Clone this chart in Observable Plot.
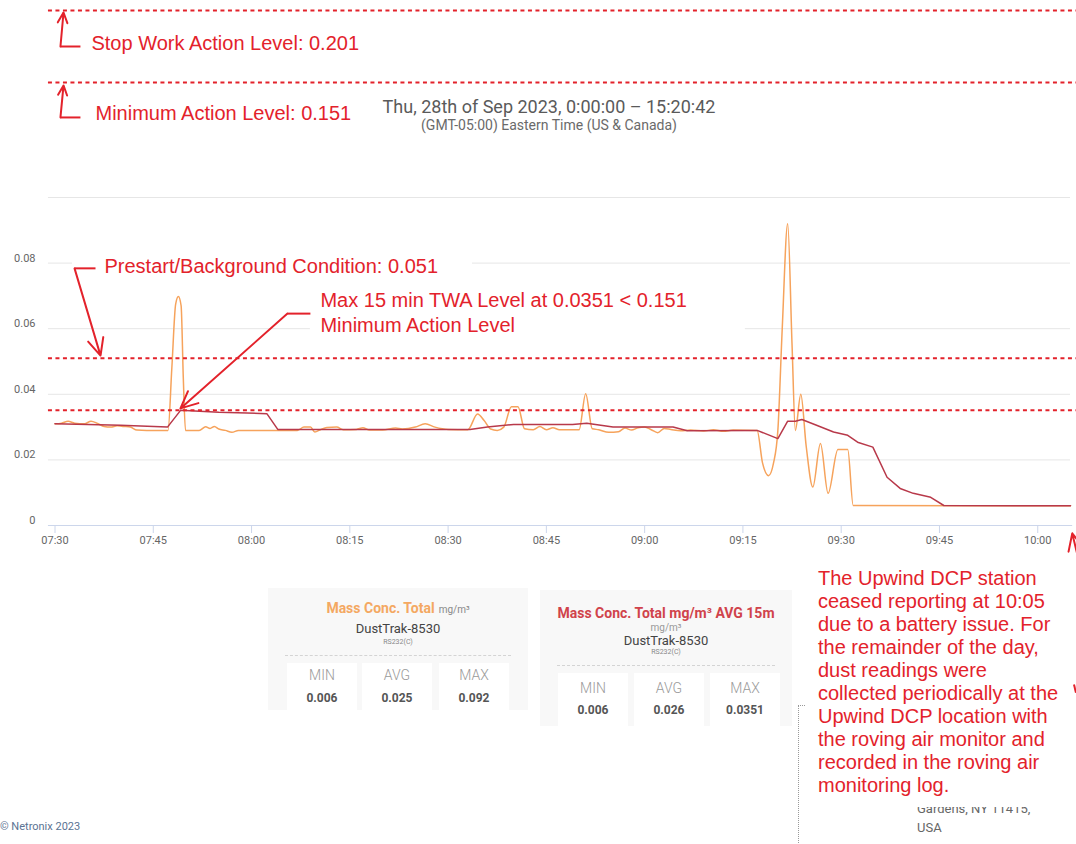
<!DOCTYPE html>
<html><head><meta charset="utf-8">
<script src="https://cdn.jsdelivr.net/npm/d3@7"></script>
<script src="https://cdn.jsdelivr.net/npm/@observablehq/plot@0.6"></script>
<style>
body{margin:0;background:#fff;}
#root{position:relative;width:1076px;height:844px;overflow:hidden;background:#fff;font-family:Roboto,"Liberation Sans",sans-serif;}
#root svg{position:absolute;left:0;top:0;}
.abs{position:absolute;white-space:nowrap;}
.c{transform:translate(-50%,-50%);}
</style></head><body><div id="root"></div>
<script>
const DAY = "2023-09-28";
const T = s => new Date(`${DAY}T${s}Z`);

// Mass Conc. Total (raw) mg/m³
const rawTimes = ["07:30:00","07:31:00","07:32:00","07:33:00","07:34:30","07:35:30","07:36:30","07:37:30","07:38:30","07:39:30","07:40:30","07:41:30","07:42:30","07:44:00","07:46:00","07:47:15","07:47:50","07:48:25","07:48:50","07:49:15","07:49:35","07:49:55","07:51:00","07:52:00","07:53:00","07:53:40","07:54:20","07:55:00","07:56:00","07:57:00","07:58:00","08:00:00","08:07:00","08:08:00","08:09:00","08:09:40","08:10:30","08:11:30","08:13:00","08:14:00","08:16:00","08:17:00","08:18:00","08:20:00","08:22:00","08:23:00","08:25:00","08:26:30","08:28:00","08:30:00","08:33:00","08:34:30","08:35:30","08:36:30","08:37:30","08:38:30","08:39:40","08:40:40","08:41:40","08:43:00","08:44:00","08:45:00","08:46:00","08:47:00","08:50:00","08:51:00","08:52:00","08:53:00","08:54:30","08:56:00","08:57:00","08:58:00","08:59:00","09:00:00","09:01:00","09:02:00","09:03:00","09:04:00","09:05:30","09:07:00","09:09:00","09:10:30","09:12:00","09:13:30","09:17:10","09:18:00","09:18:55","09:19:40","09:20:20","09:21:00","09:21:50","09:22:30","09:23:00","09:23:50","09:24:40","09:25:40","09:26:50","09:28:00","09:29:30","09:31:00","09:31:50","10:05:00"];
const rawValues = [0.0310,0.0312,0.0318,0.0312,0.0310,0.0318,0.0311,0.0302,0.0300,0.0304,0.0302,0.0300,0.0291,0.0290,0.0290,0.0290,0.0480,0.0675,0.0698,0.0670,0.0450,0.0290,0.0290,0.0290,0.0301,0.0296,0.0302,0.0294,0.0290,0.0284,0.0290,0.0290,0.0290,0.0300,0.0300,0.0285,0.0292,0.0299,0.0300,0.0292,0.0293,0.0298,0.0291,0.0291,0.0297,0.0294,0.0300,0.0310,0.0300,0.0293,0.0292,0.0340,0.0320,0.0294,0.0290,0.0300,0.0362,0.0362,0.0295,0.0292,0.0302,0.0292,0.0298,0.0292,0.0292,0.0402,0.0295,0.0292,0.0284,0.0286,0.0297,0.0291,0.0298,0.0300,0.0292,0.0283,0.0296,0.0293,0.0289,0.0291,0.0288,0.0292,0.0287,0.0291,0.0290,0.0190,0.0152,0.0190,0.0290,0.0600,0.0920,0.0550,0.0290,0.0400,0.0240,0.0117,0.0250,0.0098,0.0232,0.0232,0.0061,0.0060];

// Mass Conc. Total mg/m³ AVG 15m
const avgTimes = ["07:30:00","07:40:00","07:47:10","07:49:10","07:55:00","08:02:20","08:04:00","08:33:20","08:36:00","08:40:00","08:49:00","08:51:10","08:55:10","09:04:20","09:06:30","09:17:10","09:20:20","09:21:50","09:23:00","09:24:00","09:26:20","09:28:50","09:31:00","09:32:30","09:34:50","09:37:00","09:39:00","09:41:00","09:43:40","09:45:40","10:05:00"];
const avgValues = [0.0310,0.0306,0.0300,0.0351,0.0345,0.0341,0.0293,0.0293,0.0300,0.0308,0.0308,0.0312,0.0300,0.0300,0.0289,0.0290,0.0265,0.0318,0.0318,0.0323,0.0305,0.0285,0.0275,0.0254,0.0239,0.0147,0.0113,0.0098,0.0086,0.0061,0.0060];

// Axis ticks
const yTicks = [0, 0.02, 0.04, 0.06, 0.08];
const yGrid = [0.02, 0.04, 0.06, 0.08, 0.1];
const xTicks = ["07:30:00","07:45:00","08:00:00","08:15:00","08:30:00","08:45:00","09:00:00","09:15:00","09:30:00","09:45:00","10:00:00"];

// Threshold levels
const chartLevels = [0.051, 0.0351];
const topLevels = [0.201, 0.151];

// Annotation labels (anchor time, value)
const labelTexts = ["Stop Work Action Level: 0.201","Minimum Action Level: 0.151","Prestart/Background Condition: 0.051","Max 15 min TWA Level at 0.0351 < 0.151","Minimum Action Level"];
const labelTimes = ["07:35:34","07:36:11","07:37:33","08:10:31","08:10:31"];
const labelValues = [0.1781, 0.1373, 0.0790, 0.0686, 0.0610];

// Annotation leader lines: [time1, value1, time2, value2]
const leaderBars = [["07:30:50",0.176,"07:33:53",0.176],["07:30:50",0.1355,"07:33:53",0.1355],["07:32:59",0.0784,"07:36:11",0.0784],["08:05:29",0.0646,"08:08:59",0.0646],["10:05:32",-0.0485,"10:05:50",-0.0510]];
const arrowLines = [["07:30:50",0.176,"07:31:18",0.1996],["07:30:50",0.1355,"07:31:18",0.1497],["07:32:59",0.0784,"07:36:57",0.0518],["08:05:29",0.0646,"07:49:09",0.0357],["10:11:04",-0.0503,"10:05:16",-0.0024]];
// label backgrounds: [t1, t2, v1, v2]
const labelBoxes = [["07:32:40","08:33:43",0.0741,0.0838],["08:08:59","09:15:22",0.0564,0.0723]];

// Stats cards
const statLabels = ["MIN","AVG","MAX"];
const rawStats = [0.006, 0.025, 0.092];
const avgStats = [0.006, 0.026, 0.0351];

const raw = rawTimes.map((t,i)=>({t:T(t), v:rawValues[i]}));
const avg = avgTimes.map((t,i)=>({t:T(t), v:avgValues[i]}));
const labels = labelTexts.map((s,i)=>({s, t:T(labelTimes[i]), v:labelValues[i]}));
const seg = a => a.map(([t1,v1,t2,v2])=>({t1:T(t1),v1,t2:T(t2),v2}));
const RED = "#e3222b";
const GRID_START = T("07:29:00"), GRID_END = T("10:05:00");

const chart = Plot.plot({
  width: 1076, height: 844,
  marginLeft: 48, marginRight: 6, marginTop: 10, marginBottom: 319,
  style: {background: "transparent", overflow: "visible", fontFamily: "Roboto, 'Liberation Sans', sans-serif"},
  x: {type: "utc", domain: [T("07:30:00"), T("10:05:00")], range: [54.5, 1070]},
  y: {type: "linear", domain: [0, 0.1, 0.151, 0.201], range: [525, 197, 82, 10]},
  marks: [
    Plot.ruleY(yGrid, {x1: GRID_START, x2: GRID_END, stroke: "#e6e6e6", strokeWidth: 1}),
    Plot.ruleY([0], {x1: GRID_START, x2: T("10:05:20"), stroke: "#ccd6eb", strokeWidth: 1}),
    Plot.axisY({ticks: yTicks, tickSize: 0, tickPadding: 13, dy: -5, fontSize: 11, color: "#666",
      tickFormat: d => d === 0 ? "0" : d.toFixed(2), label: null}),
    Plot.axisX({ticks: xTicks.map(T), tickSize: 8, tickPadding: 3, fontSize: 11, stroke: "#ccd6eb", fill: "#666",
      tickFormat: d3.utcFormat("%H:%M"), label: null}),
    Plot.rect(seg(labelBoxes.map(([a,b,c,d])=>[a,c,b,d])), {x1: "t1", x2: "t2", y1: "v1", y2: "v2", fill: "white"}),
    Plot.line(raw, {x: "t", y: "v", stroke: "#f6a35c", strokeWidth: 1.5, curve: "monotone-x"}),
    Plot.line(avg, {x: "t", y: "v", stroke: "#b8394a", strokeWidth: 1.5}),
    Plot.ruleY(chartLevels, {x1: GRID_START, x2: T("10:06:00"), stroke: RED, strokeWidth: 2, strokeDasharray: "4,3.5"}),
    Plot.ruleY(topLevels, {x1: GRID_START, x2: T("10:06:00"), stroke: RED, strokeWidth: 2, strokeDasharray: "4,3.5"}),
    Plot.link(seg(leaderBars), {x1: "t1", y1: "v1", x2: "t2", y2: "v2", stroke: RED, strokeWidth: 2}),
    Plot.arrow(seg(arrowLines), {x1: "t1", y1: "v1", x2: "t2", y2: "v2", stroke: RED, strokeWidth: 2, headLength: 14, headAngle: 50}),
    Plot.text(labels, {x: "t", y: "v", text: "s", textAnchor: "start", fontSize: 20, fill: RED, fontFamily: "'Liberation Sans', Arial, sans-serif"})
  ]
});
const root = document.getElementById("root");
root.appendChild(chart);

function put(html){ root.insertAdjacentHTML("beforeend", html); }

// Title and subtitle
put(`<div class="abs c" style="left:549px;top:106px;font-size:18px;color:#5a5a5a;">Thu, 28th of Sep 2023, 0:00:00 – 15:20:42</div>`);
put(`<div class="abs c" style="left:549px;top:125px;font-size:14px;color:#6a6a6a;">(GMT-05:00) Eastern Time (US &amp; Canada)</div>`);

// Cards
function card(left, top, w, h, titleHtml, titleY, lines, sepY, boxTop, boxXs, labY, valY, stats){
  let s = `<div class="abs" style="left:${left}px;top:${top}px;width:${w}px;height:${h}px;background:#f8f8f8;"></div>`;
  s += `<div class="abs c" style="left:${left+w/2}px;top:${titleY}px;">${titleHtml}</div>`;
  for (const [txt, y, fs, col] of lines) s += `<div class="abs c" style="left:${left+w/2}px;top:${y}px;font-size:${fs}px;color:${col};">${txt}</div>`;
  s += `<div class="abs" style="left:${left+17}px;top:${sepY}px;width:${w-34}px;border-top:1px dashed #d4d4d4;"></div>`;
  boxXs.forEach((bx,i)=>{
    s += `<div class="abs" style="left:${bx}px;top:${boxTop}px;width:70px;height:${top+h-boxTop}px;background:#fff;"></div>`;
    s += `<div class="abs c" style="left:${bx+35}px;top:${labY}px;font-size:14px;color:#9a9a9a;font-weight:300;">${statLabels[i]}</div>`;
    s += `<div class="abs c" style="left:${bx+35}px;top:${valY}px;font-size:12px;color:#555;font-weight:bold;">${String(stats[i])}</div>`;
  });
  put(s);
}
card(268, 588, 260, 122,
  `<span style="font-size:14px;font-weight:bold;color:#f4a862;">Mass Conc. Total</span> <span style="font-size:10px;color:#888;">mg/m³</span>`, 607,
  [["DustTrak-8530", 628, 13, "#444"], ["RS232(C)", 642, 7, "#888"]], 655, 663, [287, 362, 439], 675, 698, rawStats);
card(540, 590, 252, 136,
  `<span style="font-size:14px;font-weight:bold;color:#d0434b;">Mass Conc. Total mg/m³ AVG 15m</span>`, 612,
  [["mg/m³", 627, 10, "#999"], ["DustTrak-8530", 640, 13, "#444"], ["RS232(C)", 652, 7, "#888"]], 665, 673, [558, 634, 710], 688, 710, avgStats);

// Dotted panel edge and address fragment
put(`<div class="abs" style="left:798px;top:705px;width:6px;height:139px;border-left:1px dotted #999;border-top:1px dotted #999;"></div>`);
put(`<div class="abs" style="left:917px;top:800px;font-size:13px;line-height:18px;color:#666;">Gardens, NY 11415,</div>`);
put(`<div class="abs" style="left:917px;top:819px;font-size:13px;line-height:18px;color:#666;">USA</div>`);

// Note
put(`<div class="abs" style="left:812px;top:562px;width:252px;height:245px;background:#fff;"></div>`);
put(`<div class="abs" style="left:818px;top:567px;font-family:'Liberation Sans',Arial,sans-serif;font-size:20px;line-height:23px;color:${RED};white-space:pre;">The Upwind DCP station
ceased reporting at 10:05
due to a battery issue. For
the remainder of the day,
dust readings were
collected periodically at the
Upwind DCP location with
the roving air monitor and
recorded in the roving air
monitoring log.</div>`);

// Footer
put(`<div class="abs" style="left:0px;top:820px;font-size:11px;color:#5b7393;">© Netronix 2023</div>`);
</script></body></html>
